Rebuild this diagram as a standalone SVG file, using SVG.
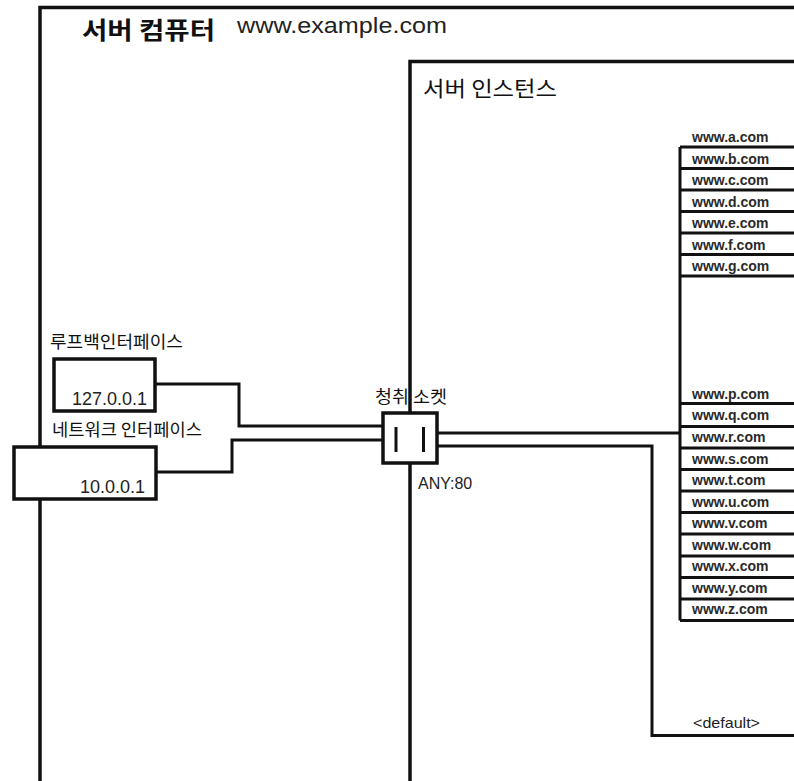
<svg xmlns="http://www.w3.org/2000/svg" width="794" height="781" viewBox="0 0 794 781">
<style>
.frame{fill:none;stroke:#111;stroke-width:3.5}
.box{fill:#fff;stroke:#111;stroke-width:3.5}
.ln{fill:none;stroke:#111;stroke-width:3}
.ko{font-family:"Noto Sans CJK KR","Noto Sans",sans-serif;fill:#111}
.en{font-family:"Liberation Sans",Arial,sans-serif;fill:#222}
.url{font-family:"Liberation Sans",Arial,sans-serif;font-size:14px;font-weight:bold;fill:#2a2a2a}
</style>
<rect width="794" height="781" fill="#fff"/>
<g id="server-computer">
<path class="frame" d="M40 781 V7.5 H794"/>
<text class="ko" x="82" y="39" font-size="24" font-weight="bold" textLength="133" lengthAdjust="spacingAndGlyphs">서버 컴퓨터</text>
<text class="en" x="237" y="33" font-size="22" textLength="210" lengthAdjust="spacingAndGlyphs">www.example.com</text>
</g>
<g id="server-instance">
<path class="frame" d="M410 781 V61.5 H794"/>
<text class="ko" x="423" y="96" font-size="21" textLength="134" lengthAdjust="spacingAndGlyphs">서버 인스턴스</text>
</g>
<g id="connectors">
<path class="ln" d="M155 384 H239 V426 H384"/>
<path class="ln" d="M155 472 H232 V440 H384"/>
<path class="ln" d="M437 433 H680"/>
<path class="ln" d="M437 446 H652 V735.5 H794"/>
</g>
<g id="vhosts-1">
<text class="url" x="692" y="142">www.a.com</text>
<path class="ln" d="M680 147 V620.5"/>
<path class="ln" d="M680 147 H794 M680 168.5 H794 M680 190 H794 M680 211.5 H794 M680 233 H794 M680 254.5 H794 M680 276 H794"/>
<text class="url" x="692" y="163.5">www.b.com</text>
<text class="url" x="692" y="185">www.c.com</text>
<text class="url" x="692" y="206.5">www.d.com</text>
<text class="url" x="692" y="228">www.e.com</text>
<text class="url" x="692" y="249.5">www.f.com</text>
<text class="url" x="692" y="271">www.g.com</text>
</g>
<g id="vhosts-2">
<text class="url" x="692" y="399">www.p.com</text>
<path class="ln" d="M680 403.5 H794 M680 426.5 H794 M680 448 H794 M680 469.5 H794 M680 491 H794 M680 512.5 H794 M680 534 H794 M680 556 H794 M680 577.5 H794 M680 599 H794 M680 620.5 H794"/>
<text class="url" x="692" y="420">www.q.com</text>
<text class="url" x="692" y="442">www.r.com</text>
<text class="url" x="692" y="463.5">www.s.com</text>
<text class="url" x="692" y="485">www.t.com</text>
<text class="url" x="692" y="506.5">www.u.com</text>
<text class="url" x="692" y="528">www.v.com</text>
<text class="url" x="692" y="549.5">www.w.com</text>
<text class="url" x="692" y="571">www.x.com</text>
<text class="url" x="692" y="592.5">www.y.com</text>
<text class="url" x="692" y="614">www.z.com</text>
</g>
<g id="default">
<text class="en" x="693" y="728" font-size="15" textLength="67" lengthAdjust="spacingAndGlyphs">&lt;default&gt;</text>
</g>
<g id="loopback">
<text class="ko" x="50" y="348" font-size="17" textLength="133" lengthAdjust="spacingAndGlyphs">루프백인터페이스</text>
<rect class="box" x="54" y="359" width="101" height="52"/>
<text class="en" x="147" y="405" font-size="18" text-anchor="end">127.0.0.1</text>
</g>
<g id="network">
<text class="ko" x="52" y="436" font-size="17" textLength="150" lengthAdjust="spacingAndGlyphs">네트워크 인터페이스</text>
<rect class="box" x="14" y="447" width="142" height="52"/>
<text class="en" x="145" y="493" font-size="18" text-anchor="end">10.0.0.1</text>
</g>
<g id="socket">
<text class="ko" x="375" y="403" font-size="17" textLength="72" lengthAdjust="spacingAndGlyphs">청취 소켓</text>
<rect class="box" x="383" y="413" width="54" height="50"/>
<path class="ln" stroke-width="3.5" d="M396 427 V452 M423.5 427 V452"/>
<text class="en" x="418" y="489" font-size="16">ANY:80</text>
</g>
</svg>
